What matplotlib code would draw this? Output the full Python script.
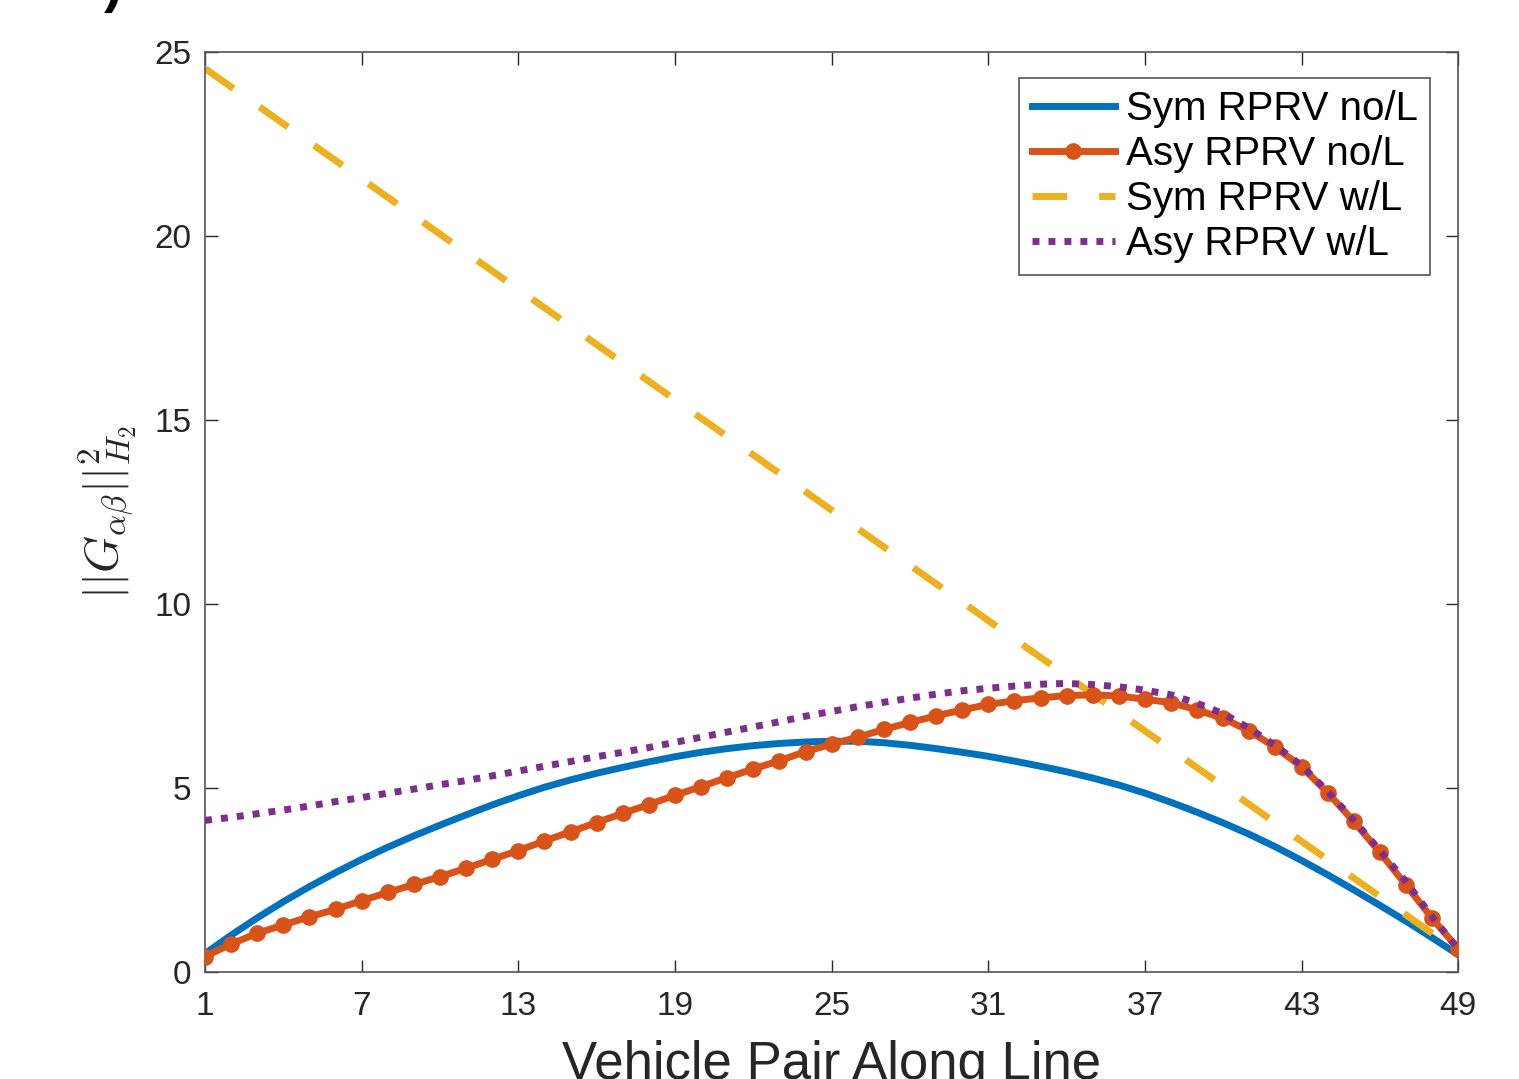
"""
Sym/Asy RPRV H2 norm along the vehicle line
"""
import matplotlib
matplotlib.use('Agg')
import matplotlib.pyplot as plt

plt.rcParams['font.family'] = ['Liberation Sans', 'DejaVu Sans']
plt.rcParams['mathtext.fontset'] = 'cm'

# vehicle pair index
pairs = list(range(1, 50))

sym_no_l = [0.50, 1.00, 1.47, 1.91, 2.32, 2.70, 3.06, 3.39, 3.70, 3.99,
            4.27, 4.54, 4.79, 5.02, 5.22, 5.40, 5.56, 5.71, 5.85, 5.97,
            6.07, 6.15, 6.21, 6.25, 6.27, 6.27, 6.23, 6.16, 6.07, 5.97,
            5.86, 5.73, 5.59, 5.44, 5.27, 5.08, 4.86, 4.61, 4.34, 4.05,
            3.74, 3.40, 3.03, 2.64, 2.23, 1.81, 1.38, 0.93, 0.47]

asy_no_l = [0.42, 0.76, 1.05, 1.28, 1.50, 1.70, 1.94, 2.16, 2.38, 2.59,
            2.82, 3.06, 3.30, 3.56, 3.81, 4.06, 4.31, 4.55, 4.80, 5.04,
            5.28, 5.52, 5.74, 5.99, 6.19, 6.38, 6.59, 6.78, 6.96, 7.12,
            7.27, 7.37, 7.45, 7.51, 7.53, 7.50, 7.41, 7.32, 7.12, 6.89,
            6.55, 6.10, 5.58, 4.87, 4.09, 3.25, 2.36, 1.46, 0.63]

sym_w_l = [24.55, 24.05, 23.55, 23.05, 22.55, 22.05, 21.55, 21.05, 20.55, 20.05,
           19.55, 19.05, 18.55, 18.05, 17.55, 17.05, 16.55, 16.05, 15.55, 15.05,
           14.55, 14.05, 13.55, 13.05, 12.55, 12.05, 11.55, 11.05, 10.55, 10.05,
           9.55, 9.05, 8.55, 8.05, 7.55, 7.05, 6.55, 6.05, 5.55, 5.05,
           4.55, 4.05, 3.55, 3.05, 2.55, 2.05, 1.55, 1.05, 0.55]

asy_w_l = [4.12, 4.20, 4.30, 4.40, 4.51, 4.63, 4.74, 4.86, 4.97, 5.09,
           5.20, 5.33, 5.46, 5.59, 5.72, 5.85, 5.97, 6.10, 6.24, 6.38,
           6.52, 6.66, 6.80, 6.95, 7.08, 7.21, 7.33, 7.44, 7.55, 7.64,
           7.71, 7.77, 7.82, 7.84, 7.81, 7.75, 7.66, 7.53, 7.30, 7.02,
           6.62, 6.15, 5.61, 4.90, 4.12, 3.30, 2.45, 1.50, 0.62]

x_ticks = [1, 7, 13, 19, 25, 31, 37, 43, 49]
y_ticks = [0, 5, 10, 15, 20, 25]

# MATLAB default colours
BLUE = '#0072BD'
ORANGE = '#D95319'
YELLOW = '#EDB120'
PURPLE = '#7E2F8E'

fig = plt.figure(figsize=(15.19, 10.79), dpi=100)
ax = fig.add_axes([0.135, 0.0992, 0.825, 0.8526])

ax.plot(pairs, sym_no_l, color=BLUE, linewidth=5, label='Sym RPRV no/L')
ax.plot(pairs, asy_no_l, color=ORANGE, linewidth=5, marker='o', markersize=11,
        label='Asy RPRV no/L', zorder=3)
ax.plot(pairs, sym_w_l, color=YELLOW, linewidth=5, linestyle=(0, (5, 4.6)),
        dash_capstyle='butt', label='Sym RPRV w/L')
ax.plot(pairs, asy_w_l, color=PURPLE, linewidth=5, linestyle=(0, (1, 1.3)),
        dash_capstyle='butt', label='Asy RPRV w/L', zorder=4)

ax.set_xlim(1, 49)
ax.set_ylim(0, 25)
ax.set_xticks(x_ticks)
ax.set_yticks(y_ticks)
ax.tick_params(axis='both', direction='in', length=9, width=1.0, labelsize=24,
               colors='#262626', top=True, right=True)
ax.tick_params(axis='x', pad=14)
ax.tick_params(axis='y', pad=10)
for sp in ax.spines.values():
    sp.set_color('#555555')
    sp.set_linewidth(1.2)

ax.set_xlabel('Vehicle Pair Along Line', fontsize=38, color='#262626')
ax.xaxis.set_label_coords(0.5, -0.074)
ax.set_ylabel(r'$||G_{\alpha\beta}||_{H_2}^2$', fontsize=34, color='#262626')
ax.yaxis.set_label_coords(-0.053, 0.5)

leg = ax.legend(loc='upper right', fontsize=29, handlelength=2.08,
                handletextpad=0.27, borderpad=0.3, labelspacing=0.17,
                fancybox=False, framealpha=1, edgecolor='#555555',
                bbox_to_anchor=(0.9777, 0.9717), borderaxespad=0)
leg.get_frame().set_linewidth(1.2)

# clipped sub-figure tag at the very top
fig.text(0.0745, 0.988, ')', fontsize=40, fontweight='bold', va='bottom',
         ha='center', color='black')

plt.savefig('out.png', dpi=100, facecolor='white')
plt.close()
